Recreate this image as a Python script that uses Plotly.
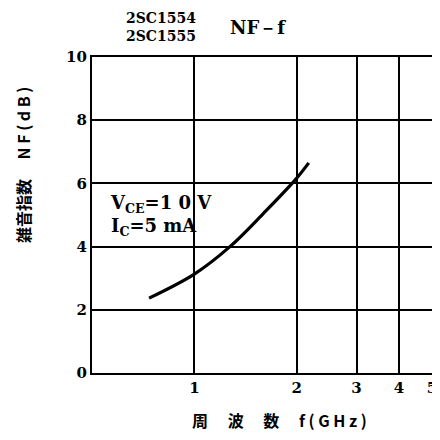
import plotly.graph_objects as go

freq_ghz = [0.736, 1.0, 1.27, 1.6, 1.98, 2.17]
nf_db = [2.37, 3.13, 3.99, 5.06, 6.11, 6.65]

x_ticks = [1, 2, 3, 4, 5]
x_ticklabels = ["1", "2", "3", "4", "5"]
y_ticks = [0, 2, 4, 6, 8, 10]

serif = "DejaVu Serif"
cjk = "Noto Sans CJK JP"

fig = go.Figure()
fig.add_trace(go.Scatter(
    x=freq_ghz, y=nf_db, mode="lines",
    line=dict(color="black", width=3.2, shape="spline"),
    hoverinfo="skip", showlegend=False,
))

# page body has an 8px margin, so the figure starts at (8, 8)
fig.update_layout(
    width=432, height=432,
    margin=dict(l=84, r=3, t=49, b=67),
    paper_bgcolor="white", plot_bgcolor="white",
    font=dict(family=serif, color="black", size=14),
    xaxis=dict(
        type="log", range=[-0.30103, 0.69897],
        tickvals=x_ticks, ticktext=x_ticklabels,
        showgrid=True, gridcolor="black", gridwidth=1.7,
        showline=True, linecolor="black", linewidth=2.2, mirror=True,
        ticks="", zeroline=False, ticklabeloverflow="allow",
        tickfont=dict(family=serif, size=15, weight="bold"),
    ),
    yaxis=dict(
        range=[0, 10], tickvals=y_ticks,
        showgrid=True, gridcolor="black", gridwidth=1.7,
        showline=True, linecolor="black", linewidth=2.2, mirror=True,
        ticks="", zeroline=False,
        tickfont=dict(family=serif, size=15, weight="bold"),
    ),
)

fig.add_annotation(
    text="<b>2SC1554<br>2SC1555</b>", xref="paper", yref="paper",
    x=0.203, y=1.095, showarrow=False, xanchor="center", yanchor="middle",
    font=dict(family=serif, size=14), align="center",
)
fig.add_annotation(
    text="<b>NF－f</b>", xref="paper", yref="paper",
    x=0.487, y=1.092, showarrow=False, xanchor="center", yanchor="middle",
    font=dict(family=serif, size=18),
)
fig.add_annotation(
    text="<b>V<sub>CE</sub>=1 0 V<br>I<sub>C</sub>=5 mA</b>", xref="paper", yref="paper",
    x=0.046, y=0.500, showarrow=False, xanchor="left", yanchor="middle",
    font=dict(family=serif, size=18), align="left",
)
fig.add_annotation(
    text="<b>雑音指数　 N F ( d B )</b>", xref="paper", yref="paper",
    x=-0.203, y=0.658, showarrow=False, xanchor="center", yanchor="middle",
    textangle=-90, font=dict(family=cjk, size=16),
)
fig.add_annotation(
    text="<b>周　 波　 数　 f ( G H z )</b>", xref="paper", yref="paper",
    x=0.551, y=-0.148, showarrow=False, xanchor="center", yanchor="middle",
    font=dict(family=cjk, size=16),
)

fig.write_html("out.html")
